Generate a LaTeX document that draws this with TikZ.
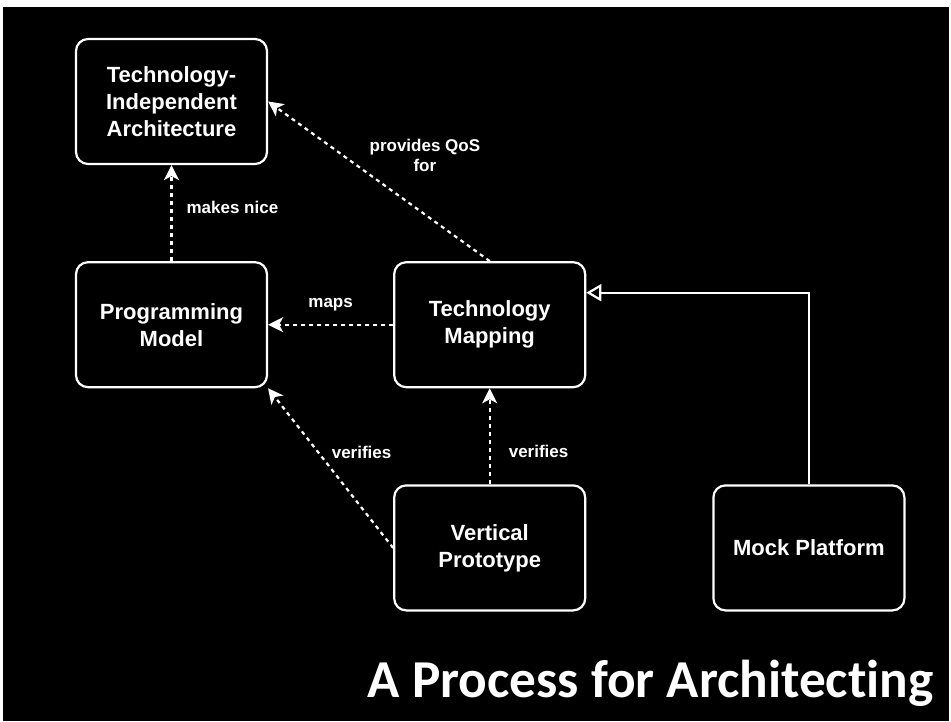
\documentclass[tikz,border=0pt]{standalone}
\usepackage{fontspec}
\setmainfont{Liberation Sans}
\newfontfamily\titlefont[Ligatures=NoCommon]{Carlito}
\usetikzlibrary{positioning, arrows.meta}

\begin{document}
\begin{tikzpicture}[
        x=1pt, y=-1pt,
        box/.style={
          draw=white,
          fill=black,
          line width=2.2pt,
          rounded corners=12pt,
          minimum width=191pt,
          minimum height=125pt,
          align=center,
          text=white,
          font=\bfseries\fontsize{22}{27}\selectfont
        },
        rel/.style={
          draw=white,
          line width=2.2pt,
          dash pattern=on 4pt off 4pt,
          -{Stealth[length=15pt, width=15pt, inset=4pt, fill=white]}
        },
        gen/.style={
          draw=white,
          line width=2.2pt,
          -{Triangle[length=15pt, width=17pt, fill=black]}
        },
        lbl/.style={
          text=white,
          inner sep=2pt,
          align=center,
          font=\bfseries\fontsize{17}{20}\selectfont
        }
      ]

      % Fondo
      \fill[white] (0,0) rectangle (951,721);
      \fill[black] (3,7) rectangle (949,721);
      \useasboundingbox (0,0) rectangle (951,721);

      % Bloques
      \node[box] (tia) at (171.5,101.5) {Technology-\\Independent\\Architecture};
      \node[box, below=96pt of tia] (pm) {Programming\\Model};
      \node[box, right=125pt of pm] (tm) {Technology\\Mapping};
      \node[box, below=96pt of tm] (vp) {Vertical\\Prototype};
      \node[box, right=126pt of vp] (mp) {Mock Platform};

      % Relaciones
      \draw[rel] (pm) -- node[lbl, right=12pt, yshift=6pt] {makes nice} (tia);
      \draw[rel] (tm.north) -- node[lbl, xshift=46pt, yshift=26pt] {provides QoS\\for} (tia.east);
      \draw[rel] (tm) -- node[lbl, above=11pt] {maps} (pm);
      \draw[rel] (vp.west) -- node[lbl, xshift=31pt, yshift=16pt] {verifies} (pm.south east);
      \draw[rel] (vp) -- node[lbl, right=16pt, yshift=-15pt] {verifies} (tm);

      % Generalizacion
      \draw[gen] (mp.north) |- ([yshift=32pt]tm.east);

      % Titulo
      \node[anchor=base east, inner sep=0pt, text=white,
        font=\titlefont\bfseries\fontsize{53.3}{60}\selectfont] (title)
        at (934,697) {A Process for Architecting};

    \end{tikzpicture}
\end{document}
